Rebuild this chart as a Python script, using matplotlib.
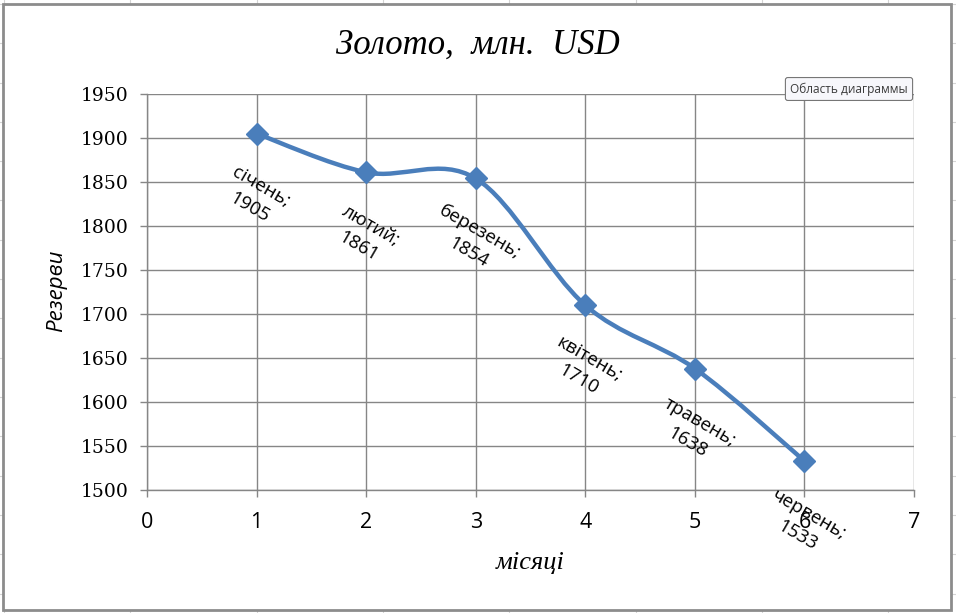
import matplotlib
matplotlib.use("Agg")
import matplotlib.pyplot as plt
from matplotlib.path import Path
from matplotlib.patches import PathPatch, Rectangle
from matplotlib.lines import Line2D
import numpy as np

# ---- data ----
months = ["січень", "лютий", "березень", "квітень", "травень", "червень"]
x_vals = [1, 2, 3, 4, 5, 6]
reserves = [1905, 1861, 1854, 1710, 1638, 1533]
title = "Золото,  млн.  USD"
x_label = "місяці"
y_label = "Резерви"
x_ticks = [0, 1, 2, 3, 4, 5, 6, 7]
y_ticks = [1500, 1550, 1600, 1650, 1700, 1750, 1800, 1850, 1900, 1950]

W, H = 956, 613
fig = plt.figure(figsize=(W / 100, H / 100), dpi=100)

# faint spreadsheet grid behind the chart
for xv in np.arange(4, W, 126.3):
    fig.add_artist(Line2D([xv / W] * 2, [0, 1], color="#d4d4d4", lw=0.8, zorder=0))
for yv in np.arange(4, H, 39.3):
    fig.add_artist(Line2D([0, 1], [1 - yv / H] * 2, color="#d4d4d4", lw=0.8, zorder=0))
# chart area
fig.add_artist(Rectangle((3 / W, 1 - 610 / H), 948 / W, 606 / H, transform=fig.transFigure,
                         facecolor="white", edgecolor="#8c8c8c", lw=2, zorder=1))

ax = fig.add_axes([147 / W, 1 - 490 / H, (914 - 147) / W, (490 - 94) / H])
ax.set_zorder(2)
ax.patch.set_alpha(0)
ax.set_xlim(0, 7)
ax.set_ylim(1500, 1950)
ax.set_xticks(x_ticks)
ax.set_yticks(y_ticks)
ax.grid(True, color="#868686", lw=1.0)
ax.set_axisbelow(True)
for s in ["top", "right"]:
    ax.spines[s].set_visible(False)
for s in ["left", "bottom"]:
    ax.spines[s].set_color("#868686")
    ax.spines[s].set_linewidth(1.0)
ax.tick_params(axis="both", direction="out", length=5, color="#868686", width=1.0)
ax.tick_params(axis="x", pad=11)
ax.tick_params(axis="y", pad=8)
for lab in ax.get_yticklabels():
    lab.set_fontfamily("DejaVu Serif")
    lab.set_fontsize(13.5)
for lab in ax.get_xticklabels():
    lab.set_fontfamily("Open Sans")
    lab.set_fontsize(15.5)

# smoothed line (Catmull-Rom style Bezier, like Excel smoothing)
P = np.column_stack([x_vals, reserves]).astype(float)
n = len(P)
verts = [tuple(P[0])]
codes = [Path.MOVETO]
for i in range(n - 1):
    p0 = P[i - 1] if i > 0 else P[i]
    p1 = P[i]
    p2 = P[i + 1]
    p3 = P[i + 2] if i + 2 < n else P[i + 1]
    c1 = p1 + (p2 - p0) / 6.0
    c2 = p2 - (p3 - p1) / 6.0
    verts += [tuple(c1), tuple(c2), tuple(p2)]
    codes += [Path.CURVE4] * 3
ax.add_patch(PathPatch(Path(verts, codes), facecolor="none", edgecolor="#4A7EBB",
                       lw=3.2, capstyle="round", joinstyle="round", zorder=3))
ax.plot(x_vals, reserves, linestyle="none", marker="D", markersize=11,
        color="#4A7EBB", zorder=4, clip_on=False)

for m, xv, yv in zip(months, x_vals, reserves):
    ax.annotate(f"{m};\n{yv}", (xv, yv), xytext=(-1, -46), textcoords="offset points",
                ha="center", va="center", rotation=-30, rotation_mode="anchor",
                multialignment="center", fontsize=13.5, fontfamily="Open Sans",
                linespacing=1.4, zorder=5, annotation_clip=False)

fig.text(478 / W, 1 - 45 / H, title, ha="center", va="center",
         fontsize=25, fontfamily="Liberation Serif", style="italic", zorder=5)
fig.text(530 / W, 1 - 563 / H, x_label, ha="center", va="center",
         fontsize=19, fontfamily="Liberation Serif", style="italic", zorder=5)
fig.text(57 / W, 1 - 291 / H, y_label, ha="center", va="center", rotation=90,
         fontsize=16, fontfamily="Open Sans", style="italic", zorder=5)

# tooltip
fig.text(849 / W, 1 - 89 / H, "Область диаграммы", ha="center", va="center",
         fontsize=8.6, fontfamily="Open Sans", color="#3c3c3c", zorder=6,
         bbox=dict(boxstyle="round,pad=0.4,rounding_size=0.2", facecolor="#f7f7fb",
                   edgecolor="#767676", lw=0.8))

fig.savefig("out.png", dpi=100)
